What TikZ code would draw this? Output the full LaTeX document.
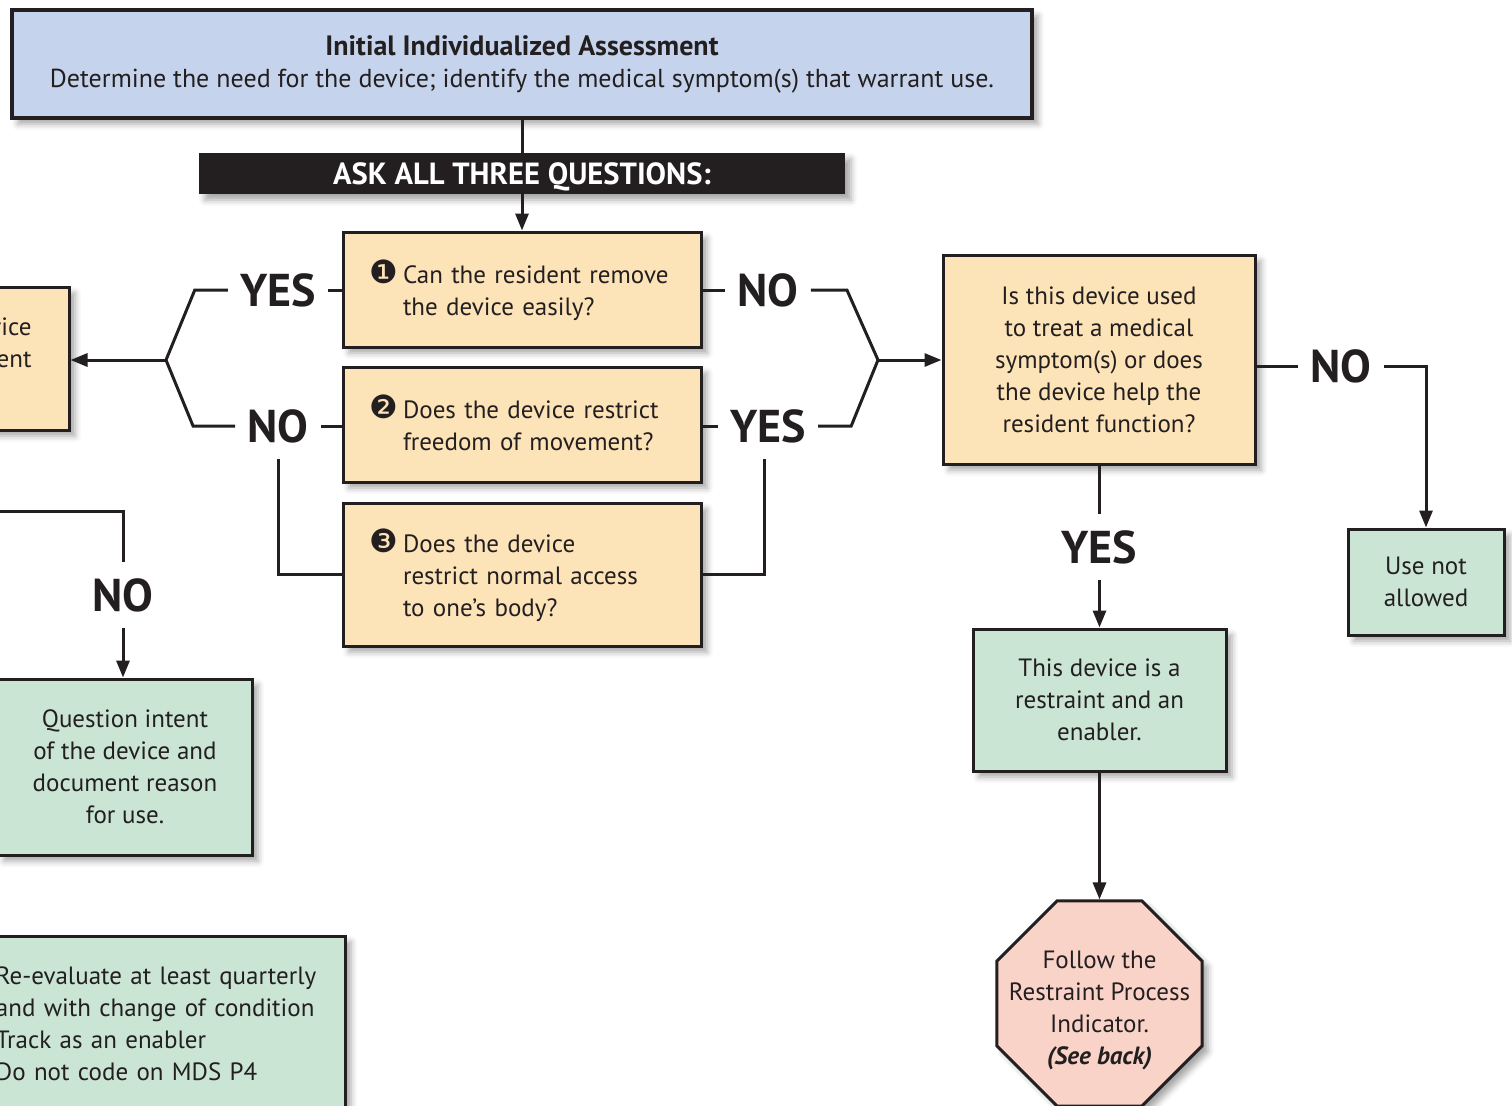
\documentclass[tikz,border=0pt]{standalone}
\usepackage{fontspec}
\setmainfont{PT Sans}
\newfontfamily\numfont{DejaVu Sans}
\usetikzlibrary{arrows.meta}
\usetikzlibrary{shapes.geometric}
\usetikzlibrary{shadows.blur}
\definecolor{ink}{HTML}{231F20}
\definecolor{boxblue}{HTML}{C5D4EC}
\definecolor{boxpeach}{HTML}{FDE3B8}
\definecolor{boxgreen}{HTML}{CAE5D4}
\definecolor{boxpink}{HTML}{F9D3C8}
\tikzset{
  shade/.style={blur shadow={shadow xshift=3pt,shadow yshift=-3pt,shadow blur radius=3pt,shadow opacity=35}},
  box/.style={draw=ink,line width=1.5pt,inner sep=0pt,align=center,text=ink,
    font=\fontsize{12.5}{16}\selectfont,shade},
  qbox/.style={box,fill=boxpeach,minimum width=179pt,minimum height=57.5pt,text width=153pt,align=left},
  ans/.style={font=\fontsize{23}{23}\selectfont\bfseries,text=ink,inner xsep=6pt,inner ysep=8pt},
  conn/.style={ink,line width=1.5pt},
  arr/.style={conn,-{Triangle[length=8.5pt,width=6.5pt]}}
}
\newcommand{\qline}[2]{\makebox[17pt][l]{\numfont\fontsize{16}{16}\selectfont#1}\parbox[t]{136pt}{\rule{0pt}{14pt}#2\rule[-4pt]{0pt}{4pt}}}

\begin{document}
\begin{tikzpicture}[x=0.5pt,y=-0.5pt]
  \useasboundingbox (0,0) rectangle (1512,1105);
  \clip (0,0) rectangle (1512,1105);

  \node[box,fill=boxblue,line width=2pt,minimum width=510pt,minimum height=54pt,font=\fontsize{13}{16}\selectfont] (assess) at (522,64)
    {{\fontsize{14}{16}\selectfont\bfseries Initial Individualized Assessment}\\Determine the need for the device; identify the medical symptom(s) that warrant use.};
  \node[fill=ink,text=white,minimum width=323pt,minimum height=20.5pt,inner sep=0pt,text depth=0pt,
    font=\fontsize{15.3}{15}\selectfont\bfseries,shade] (ask) at (522,173.5) {ASK ALL THREE QUESTIONS:};

  % the three questions
  \node[qbox] (q1) at (522,289.5) {\qline{❶}{Can the resident remove\\the device easily?}};
  \node[qbox] (q2) at (522,424.5) {\qline{❷}{Does the device restrict\\freedom of movement?}};
  \node[qbox,minimum height=71.5pt] (q3) at (522,574.5) {\qline{❸}{Does the device\\restrict normal access\\to one’s body?}};

  \node[ans] (yesL) at (278,290) {YES};
  \node[ans] (noL) at (278,426) {NO};
  \node[ans] (noR) at (768,290) {NO};
  \node[ans] (yesR) at (768,426) {YES};
  \node[ans] (noD) at (1341,366) {NO};
  \node[ans] (yesD) at (1099.5,547) {YES};
  \node[ans] (noQ) at (123,595) {NO};

  \node[box,fill=boxpeach,minimum width=134.5pt,minimum height=71.5pt,text width=97pt,align=right] (enabler) at (-65.5,358.5)
    {device\\resident\\\mbox{}};
  \node[box,fill=boxpeach,minimum width=156pt,minimum height=104.5pt] (dec) at (1099,359.5)
    {Is this device used\\to treat a medical\\symptom(s) or does\\the device help the\\resident function?};
  \node[box,fill=boxgreen,minimum width=78pt,minimum height=53pt] (useno) at (1426,582) {Use not\\allowed};
  \node[box,fill=boxgreen,minimum width=126.5pt,minimum height=71pt] (enab) at (1099.5,700)
    {This device is a\\restraint and an\\enabler.};
  \node[box,fill=boxpink,regular polygon,regular polygon sides=8,minimum size=111pt] (stop) at (1099.5,1003.5) {};
  \node[align=center,text=ink,font=\fontsize{12.5}{16}\selectfont,inner sep=0pt] (stoptext) at ([yshift=-3.5pt]stop.center)
    {Follow the\\Restraint Process\\Indicator.\\\textbf{\textit{(See back)}}};
  \node[box,fill=boxgreen,minimum width=127pt,minimum height=88pt] (quest) at (125,767)
    {Question intent\\of the device and\\document reason\\for use.};
  \node[box,fill=boxgreen,minimum width=187.5pt,minimum height=88pt,text width=161.5pt,align=left] (reeval) at (157.5,1024)
    {Re-evaluate at least quarterly\\and with change of condition\\Track as an enabler\\Do not code on MDS P4};

  \coordinate (forkL) at (166,360);
  \coordinate (forkR) at (878,360);
  \coordinate (offL) at (-10,511);

  \draw[conn] (assess) -- (ask);
  \draw[arr] (ask) -- (q1);

  \draw[conn] (yesL -| q1.west) -- (yesL.east);
  \draw[conn] (noL -| q2.west) -- (noL.east);
  \draw[conn] (yesL.west) -- ++(-33,0) -- (forkL);
  \draw[conn] (noL.west) -- ++(-42,0) -- (forkL);
  \draw[arr] (forkL) -- (forkL -| enabler.east);
  \draw[conn] (noL.south) |- (q3.west);

  \draw[conn] (noR -| q1.east) -- (noR.west);
  \draw[conn] (yesR -| q2.east) -- (yesR.west);
  \draw[conn] (noR.east) -- ++(36,0) -- (forkR);
  \draw[conn] (yesR.east) -- ++(33,0) -- (forkR);
  \draw[arr] (forkR) -- (forkR -| dec.west);
  \draw[conn] ([xshift=-2pt]yesR.south) |- (q3.east);

  \draw[conn] (noD -| dec.east) -- (noD.west);
  \draw[arr] (noD.east) -| (useno.north);
  \draw[conn] (dec.south -| yesD) -- (yesD.north);
  \draw[arr] (yesD.south) -- (enab.north);
  \draw[arr] (enab.south) -- (stop);

  \draw[conn] (offL) -| (noQ.north);
  \draw[arr] (noQ.south) -- (noQ.south |- quest.north);
\end{tikzpicture}
\end{document}
